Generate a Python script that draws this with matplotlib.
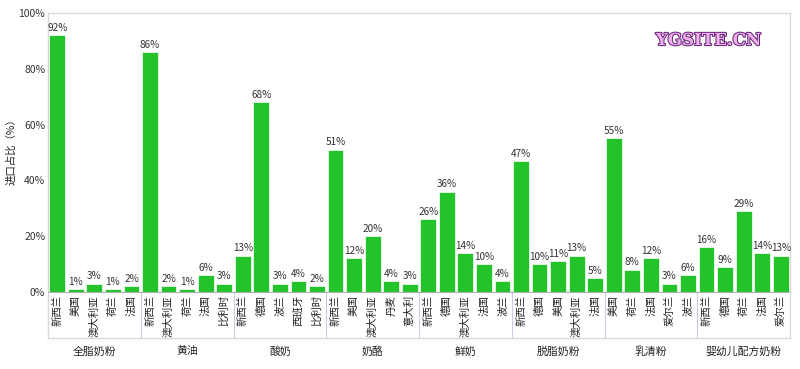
import matplotlib.pyplot as plt
import matplotlib.patheffects as pe
import numpy as np

plt.rcParams['font.family'] = ['Noto Sans CJK SC', 'DejaVu Sans']

# groups and the countries inside each group
groups = ['全脂奶粉', '黄油', '酸奶', '奶酪', '鲜奶', '脱脂奶粉', '乳清粉', '婴幼儿配方奶粉']
countries = [
    ['新西兰', '美国', '澳大利亚', '荷兰', '法国'],
    ['新西兰', '澳大利亚', '荷兰', '法国', '比利时'],
    ['新西兰', '德国', '波兰', '西班牙', '比利时'],
    ['新西兰', '美国', '澳大利亚', '丹麦', '意大利'],
    ['新西兰', '德国', '澳大利亚', '法国', '波兰'],
    ['新西兰', '德国', '美国', '澳大利亚', '法国'],
    ['美国', '荷兰', '法国', '爱尔兰', '波兰'],
    ['新西兰', '德国', '荷兰', '法国', '爱尔兰'],
]
shares = [
    [92, 1, 3, 1, 2],
    [86, 2, 1, 6, 3],
    [13, 68, 3, 4, 2],
    [51, 12, 20, 4, 3],
    [26, 36, 14, 10, 4],
    [47, 10, 11, 13, 5],
    [55, 8, 12, 3, 6],
    [16, 9, 29, 14, 13],
]

green = '#22c42a'
frame = '#d9d9d9'

fig = plt.figure(figsize=(8, 3.69), dpi=100)
ax = fig.add_axes([0.06, 0.084, 0.9275, 0.881])

labels = [c for g in countries for c in g]
values = [v for g in shares for v in g]
x = np.arange(len(values))

ax.bar(x, values, width=0.85, color=green, edgecolor='white', linewidth=0.5, zorder=2)
for xi, v in zip(x, values):
    ax.text(xi, v + 0.8, f'{v}%', ha='center', va='bottom', fontsize=7.2, color='#333333')
    ax.text(xi, -1.2, labels[xi], ha='center', va='top', rotation=90, fontsize=7.5,
            color='#222222')

# group separators and names
n = len(countries[0])
for gi, name in enumerate(groups):
    if gi > 0:
        ax.plot([gi * n - 0.5] * 2, [-16.5, 0], color='#c8cde0', lw=0.8, clip_on=False)
    ax.text(gi * n + (n - 1) / 2, -19.5, name, ha='center', va='top', fontsize=7.8,
            color='#222222')

ax.axhline(0, color='#b0b0b0', lw=0.8, zorder=3)
ax.set_xlim(-0.5, len(values) - 0.5)
ax.set_ylim(-16.5, 100)
ax.set_yticks([0, 20, 40, 60, 80, 100])
ax.set_yticklabels(['0%', '20%', '40%', '60%', '80%', '100%'], fontsize=7.5, color='#333333')
ax.set_xticks([])
ax.tick_params(axis='y', length=0, pad=2)
for s in ax.spines.values():
    s.set_color(frame)
    s.set_linewidth(1.0)

ax.set_ylabel('进口占比（%）', fontsize=7.5, color='#222222', labelpad=4)
ax.yaxis.set_label_coords(-0.042, 0.58)

# watermark
ax.text(0.89, 0.915, 'YGSITE.CN', transform=ax.transAxes, fontsize=12, fontweight='bold',
        color='#f2b0f0', ha='center', va='center', family='DejaVu Serif',
        path_effects=[pe.withStroke(linewidth=1.5, foreground='#6a2a7a')])

fig.savefig('out.png', dpi=100)
